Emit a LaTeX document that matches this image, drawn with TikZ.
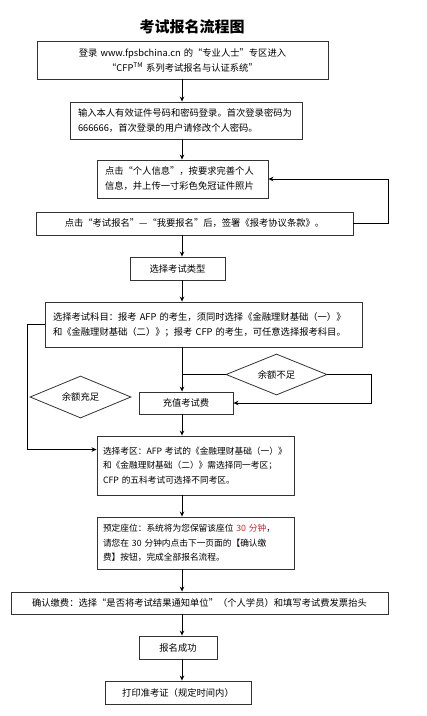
\documentclass[tikz,border=0pt]{standalone}
\usepackage{fontspec}
\setmainfont{Noto Sans CJK SC}
\usepackage{xcolor}
\usetikzlibrary{arrows.meta, positioning, calc, shapes.geometric}
\definecolor{seatred}{RGB}{200,40,40}

\begin{document}
\begin{tikzpicture}[x=1pt, y=-1pt, >={Stealth[length=5pt,width=4.5pt]},
  font=\fontsize{9.3}{15}\selectfont,
  box/.style={draw=black!80, line width=0.9pt, inner xsep=8pt, inner ysep=0pt, align=center},
  lbox/.style={box, align=left},
  small/.style={lbox, inner xsep=6pt, text width=185, font=\fontsize{8.7}{14.5}\selectfont},
  choice/.style={draw=black!80, line width=0.8pt, fill=white, diamond, aspect=2.4, inner sep=0pt},
  link/.style={line width=0.8pt}]
  \useasboundingbox (0,0) rectangle (427,716);
  % Titre
  \node[font=\fontsize{15}{15}\selectfont\bfseries] (title) at (192,27) {考试报名流程图};
  % Connexion et informations
  \node[box, text width=275, minimum height=38] (login) at (182.5,60)
    {登录 www.fpsbchina.cn 的“专业人士”专区进入\\“CFP\textsuperscript{TM} 系列考试报名与认证系统”};
  \node[lbox, text width=216, minimum height=37] (pwd) at (186,120.5)
    {输入本人有效证件号码和密码登录。首次登录密码为\\666666，首次登录的用户请修改个人密码。};
  \node[lbox, text width=155, minimum height=38] (info) at (182.5,179)
    {点击“个人信息”，按要求完善个人\\信息，并上传一寸彩色免冠证件照片};
  \node[box, text width=301, minimum height=23] (sign) at (194.5,223.5)
    {点击“考试报名”—“我要报名”后，签署《报考协议条款》。};
  % Type et matières
  \node[box, text width=79, minimum height=23] (type) at (177.5,268.5) {选择考试类型};
  \node[lbox, text width=301, minimum height=45] (subj) at (203.5,324.5)
    {选择考试科目：报考 AFP 的考生，须同时选择《金融理财基础（一）》\\和《金融理财基础（二）》；报考 CFP 的考生，可任意选择报考科目。};
  % Centre et siège
  \node[small, minimum height=59] (area) at (195.5,465.5)
    {选择考区：AFP~考试的《金融理财基础（一）》\\和《金融理财基础（二）》需选择同一考区；\\CFP 的五科考试可选择不同考区。};
  \node[small, minimum height=52] (seat) at (195.5,543)
    {预定座位：系统将为您保留该座位~\textcolor{seatred}{30~分钟}，\\请您在~30~分钟内点击下一页面的【确认缴\\费】按钮，完成全部报名流程。};
  \node[box, text width=361, minimum height=22] (confirm) at (199.5,603)
    {确认缴费：选择“是否将考试结果通知单位”（个人学员）和填写考试费发票抬头};
  \node[box, text width=62, minimum height=23] (done) at (178,647.5) {报名成功};
  \node[box, text width=130, minimum height=23] (print) at (178,692.5) {打印准考证（规定时间内）};
  % Solde du compte
  \node[box, text width=78, minimum height=22] (pay) at (186,403) {充值考试费};
  \coordinate (spine) at (182,0);
  \draw[->, link] (subj.south -| spine) -- (pay.north -| spine);
  \draw[->, link] (subj.west) -- ++(-17,0) |- ($(area.north west)+(0,14)$);
  \node[choice, minimum width=101, minimum height=42] (ok) at (80.5,397) {余额充足};
  \node[choice, minimum width=101, minimum height=41] (low) at (276.5,374.5) {余额不足};
  \draw[link] (low.west) -- (low.west -| spine);
  \draw[->, link] (low.east) -- ++(44,0) |- (pay.east);
  % Flèches principales
  \draw[->, link] (login.south -| spine) -- (pwd.north -| spine);
  \draw[->, link] (pwd.south -| spine) -- (info.north -| spine);
  \draw[->, link] (sign.east) -- ++(35,0) |- (info.east);
  \draw[->, link] (sign.south -| spine) -- (type.north -| spine);
  \draw[->, link] (type.south -| spine) -- (subj.north -| spine);
  \draw[->, link] (pay.south -| spine) -- (area.north -| spine);
  \draw[->, link] (area.south -| spine) -- (seat.north -| spine);
  \draw[->, link] (seat.south -| spine) -- (confirm.north -| spine);
  \draw[->, link] (confirm.south -| spine) -- (done.north -| spine);
  \draw[->, link] (done.south -| spine) -- (print.north -| spine);
\end{tikzpicture}
\end{document}
